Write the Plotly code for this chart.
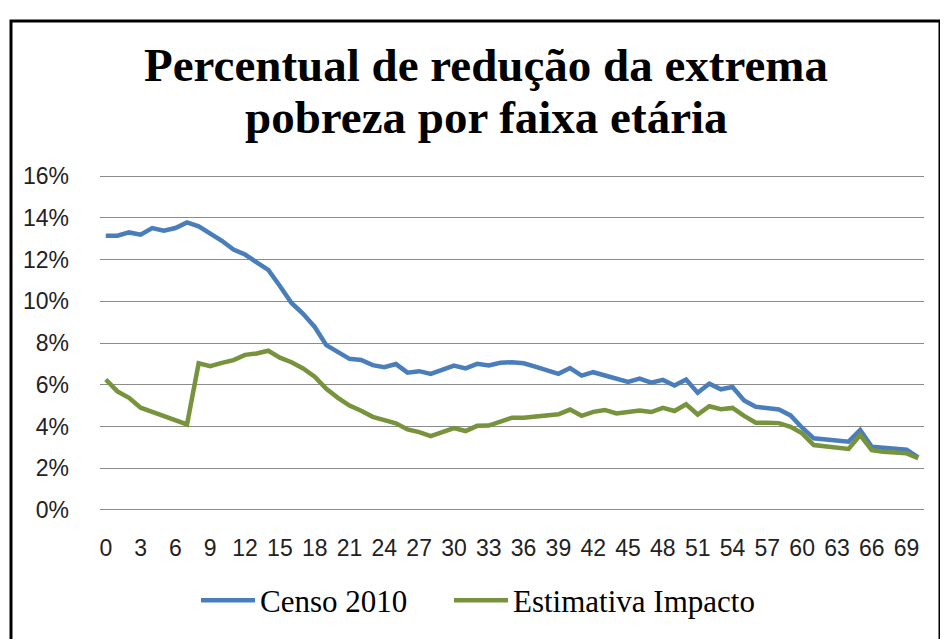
import plotly.graph_objects as go

ages = list(range(0, 71))

censo_2010 = [
    13.14, 13.14, 13.30, 13.19, 13.51, 13.38, 13.51, 13.78, 13.59, 13.27,
    12.90, 12.48, 12.24, 11.87, 11.50, 10.73, 9.92, 9.40, 8.77, 7.90,
    7.59, 7.24, 7.19, 6.94, 6.84, 6.99, 6.58, 6.65, 6.52, 6.72,
    6.92, 6.78, 7.00, 6.92, 7.05, 7.08, 7.03, 6.87, 6.68, 6.52,
    6.80, 6.44, 6.60, 6.46, 6.29, 6.13, 6.29, 6.10, 6.23, 5.96,
    6.25, 5.62, 6.05, 5.78, 5.89, 5.25, 4.94, 4.88, 4.81, 4.53,
    3.94, 3.43, 3.38, 3.33, 3.27, 3.83, 3.03, 2.98, 2.95, 2.89,
    2.52,
]

estimativa_impacto = [
    6.25, 5.68, 5.37, 4.90, 4.70, 4.49, 4.30, 4.10, 7.03, 6.89,
    7.05, 7.18, 7.43, 7.50, 7.63, 7.30, 7.08, 6.78, 6.39, 5.80,
    5.37, 5.00, 4.75, 4.46, 4.30, 4.15, 3.86, 3.73, 3.54, 3.72,
    3.92, 3.78, 4.03, 4.04, 4.23, 4.42, 4.42, 4.47, 4.51, 4.58,
    4.81, 4.51, 4.70, 4.79, 4.62, 4.67, 4.76, 4.69, 4.89, 4.74,
    5.06, 4.57, 4.97, 4.83, 4.89, 4.51, 4.18, 4.18, 4.16, 3.98,
    3.67, 3.11, 3.03, 2.98, 2.92, 3.59, 2.87, 2.79, 2.76, 2.71,
    2.48,
]

x_ticks = list(range(0, 70, 3))
y_ticks = list(range(0, 17, 2))

title_lines = ["Percentual de redução da extrema", "pobreza por faixa etária"]
series_names = ["Censo 2010", "Estimativa Impacto"]
colors = ["#4A7EBB", "#77933C"]

# page has an 8px body margin; figure sized to fit the 948x639 window
OFF = 8
W, H = 948 - OFF, 639 - OFF
PL, PR, PT, PB = 100, 924, 174, 514          # plot area in page pixels
L, R, T, B = PL - OFF, W - (PR - OFF), PT - OFF, H - (PB - OFF)
pw, ph = PR - PL, PB - PT

def px(x_page):
    return (x_page - PL) / pw

def py(y_page):
    return (PB - y_page) / ph

legend_ids = ["legend", "legend2"]
legend_left = [196, 449]   # page x of each legend box

fig = go.Figure()
for name, vals, col, lg in zip(series_names, [censo_2010, estimativa_impacto], colors, legend_ids):
    fig.add_trace(go.Scatter(
        x=ages, y=vals, mode="lines", name=name,
        line=dict(color=col, width=4.5), legend=lg,
    ))

legend_style = dict(
    orientation="h", xanchor="left", yanchor="middle", y=py(603),
    font=dict(family="Liberation Serif", size=31, color="black"),
    itemwidth=54, bgcolor="rgba(0,0,0,0)",
)

fig.update_layout(
    width=W, height=H,
    margin=dict(l=L, r=R, t=T, b=B, pad=0),
    paper_bgcolor="white", plot_bgcolor="white",
    xaxis=dict(
        range=[-0.5, 70.5],
        tickmode="array", tickvals=x_ticks, ticktext=[str(v) for v in x_ticks],
        showgrid=False, zeroline=False, showline=False, ticks="",
        tickfont=dict(family="Liberation Sans", size=23, color="#222"),
        ticklabelstandoff=20,
    ),
    yaxis=dict(
        range=[-0.1, 16.1],
        tickmode="array", tickvals=y_ticks, ticktext=[f"{v}%" for v in y_ticks],
        showgrid=True, gridcolor="#8c8c8c", gridwidth=1.3,
        zeroline=False, showline=False, ticks="",
        tickfont=dict(family="Liberation Sans", size=23, color="#222"),
        ticklabelstandoff=30,
    ),
    legend=dict(x=px(legend_left[0]), **legend_style),
    legend2=dict(x=px(legend_left[1]), **legend_style),
    showlegend=True,
)

for text, yc in zip(title_lines, [64, 117]):
    fig.add_annotation(
        text=text, xref="paper", yref="paper",
        x=px(486), y=py(yc), xanchor="center", yanchor="middle",
        showarrow=False,
        font=dict(family="Liberation Serif", size=47, color="black", weight="bold"),
    )

fig.add_shape(
    type="rect", xref="paper", yref="paper",
    x0=px(11), x1=px(940), y0=py(660), y1=py(20),
    line=dict(color="black", width=3), fillcolor="rgba(0,0,0,0)",
    layer="below",
)

fig.write_html("out.html")
